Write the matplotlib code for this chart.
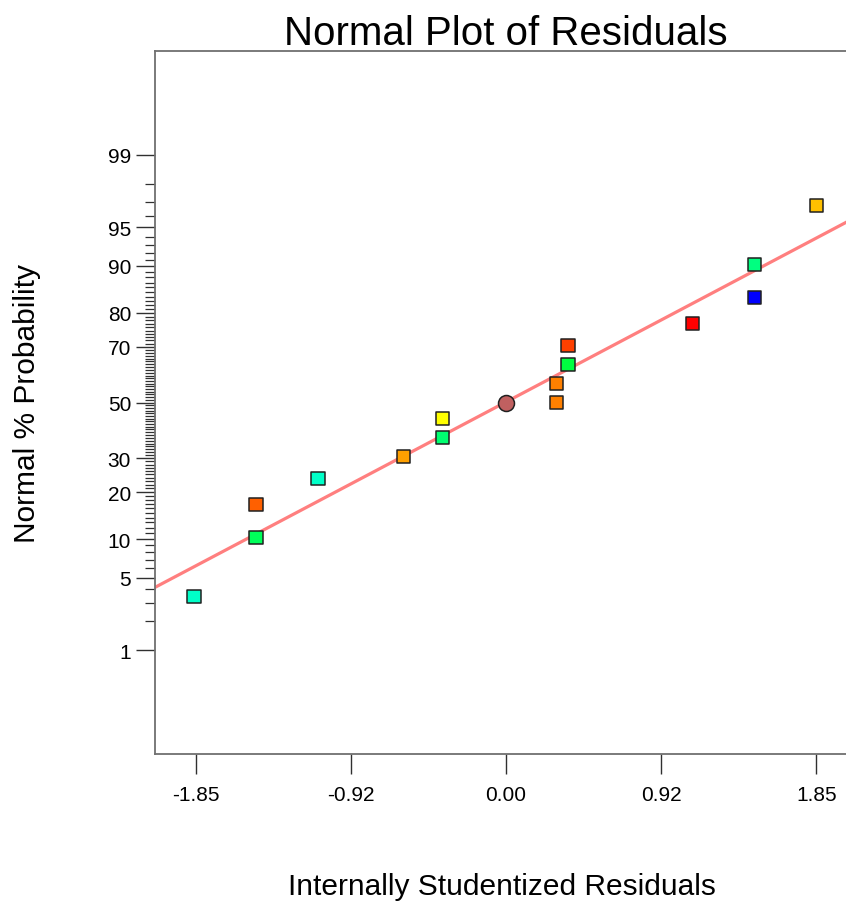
import matplotlib.pyplot as plt
import numpy as np
from statistics import NormalDist

# Internally studentized residuals and their normal % probability
residuals = [-1.86, -1.49, -1.49, -1.12, -0.61, -0.38, -0.38, 0.30, 0.30, 0.37, 0.37, 1.11, 1.48, 1.48, 1.85]
probability = [3.4, 10.3, 16.9, 23.8, 30.6, 37.1, 44.0, 50.0, 57.1, 63.9, 70.4, 77.1, 83.8, 90.2, 96.8]
point_colors = ["#00FFC8", "#00FF5A", "#FF6000", "#00FFC8", "#FFA000", "#00FF70", "#FFFF00",
                "#FF8000", "#FF8000", "#00FF40", "#FF4000", "#FF0000", "#0000FF", "#00FF80", "#FFC000"]

# centre point drawn as a circle
center_residual = [0.0]
center_probability = [50.0]

# reference line, in normal-score units: z = intercept + slope * residual
line_intercept = 0.005
line_slope = 0.832

x_ticks = [-1.85, -0.925, 0.0, 0.925, 1.85]
x_tick_labels = ["-1.85", "-0.92", "0.00", "0.92", "1.85"]
y_major = [1, 5, 10, 20, 30, 50, 70, 80, 90, 95, 99]
y_minor = [p for p in range(2, 99) if p not in y_major]

FONT = "Liberation Sans"
ND = NormalDist()


def to_z(p):
    p = np.clip(np.asarray(p, dtype=float) / 100.0, 1e-9, 1 - 1e-9)
    return np.vectorize(ND.inv_cdf)(p)


def from_z(z):
    return np.vectorize(ND.cdf)(np.asarray(z, dtype=float)) * 100.0


plt.rc("font", family=FONT)
W, H = 846, 903
fig = plt.figure(figsize=(W / 100, H / 100), dpi=100)
left, right, top, bottom = 155, 857, 52, 755
ax = fig.add_axes([left / W, 1 - bottom / H, (right - left) / W, (bottom - top) / H])
ax.set_yscale("function", functions=(to_z, from_z))

line_x = np.linspace(-2.2, 2.2, 200)
ax.plot(line_x, from_z(line_intercept + line_slope * line_x), color="#FF7F7F", lw=2.3, zorder=2)

ax.scatter(residuals, probability, marker="s", s=9.5 ** 2, c=point_colors,
           edgecolors="#202020", linewidths=1.1, zorder=3)
ax.scatter(center_residual, center_probability, marker="o", s=11.5 ** 2, c="#C06060",
           edgecolors="#202020", linewidths=1.1, zorder=3)

ax.set_xlim(-2.092, 2.092)
ax.set_ylim(from_z(-3.3), from_z(3.3))

ax.set_xticks(x_ticks)
ax.set_xticklabels(x_tick_labels)
ax.set_yticks(y_major)
ax.set_yticklabels([str(v) for v in y_major])
ax.set_yticks(y_minor, minor=True)
ax.xaxis.set_minor_locator(plt.NullLocator())

ax.tick_params(axis="x", which="major", direction="out", length=14.5, width=1.0,
               color="#303030", labelsize=15, pad=8)
ax.tick_params(axis="y", which="major", direction="out", length=13.7, width=1.0,
               color="#303030", labelsize=15, pad=3.5)
ax.tick_params(axis="y", which="minor", direction="out", length=7.2, width=0.9, color="#303030")

for side in ["left", "bottom", "top"]:
    ax.spines[side].set_color("#707070")
    ax.spines[side].set_linewidth(1.3)
ax.spines["right"].set_visible(False)

fig.text(506 / W, 1 - 45 / H, "Normal Plot of Residuals", ha="center", va="baseline", fontsize=29)
fig.text(502 / W, 1 - 895 / H, "Internally Studentized Residuals", ha="center", va="baseline", fontsize=21.5)
fig.text(27 / W, 1 - 403.5 / H, "Normal % Probability", ha="center", va="center", rotation=90, fontsize=21.5)

fig.savefig("out.png", dpi=100)
